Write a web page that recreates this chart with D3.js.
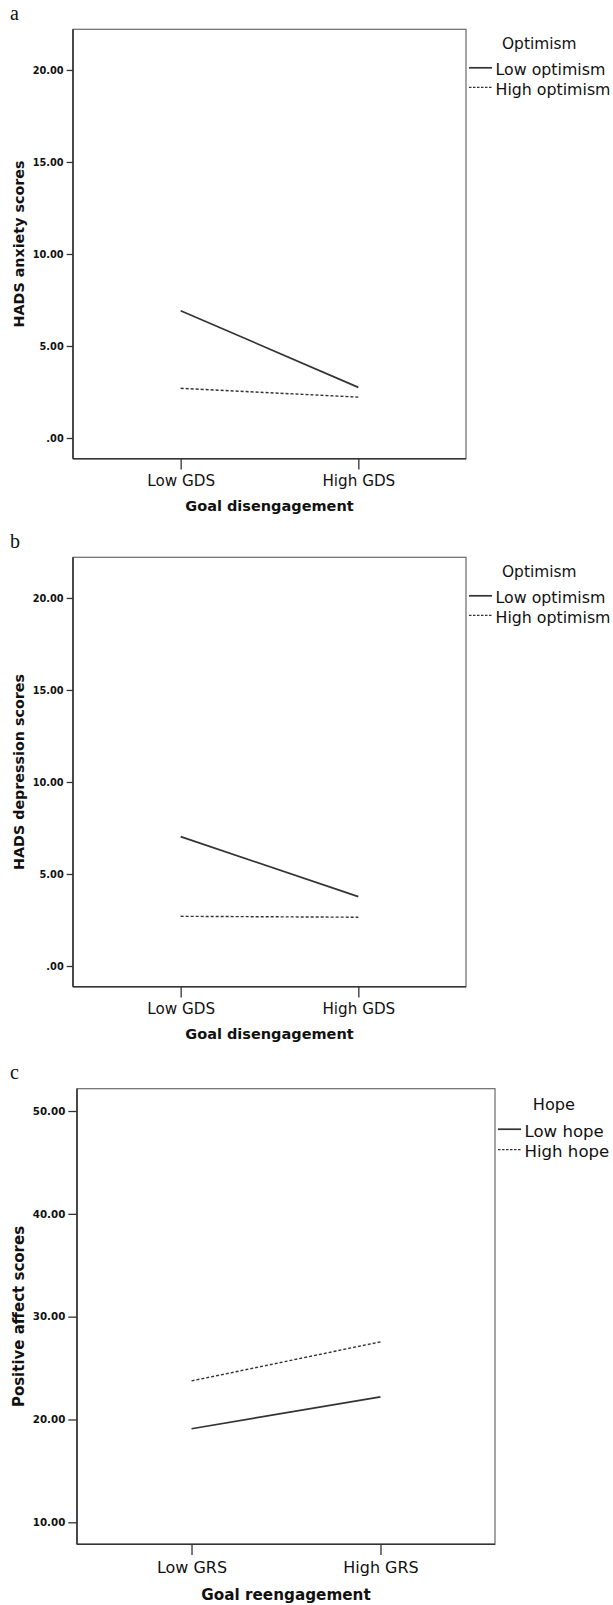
<!DOCTYPE html>
<html>
<head>
<meta charset="utf-8">
<script src="https://cdn.jsdelivr.net/npm/d3@7"></script>
<style>
  html, body { margin: 0; padding: 0; background: #fff; }
  svg { display: block; }
  text { font-family: "DejaVu Sans", sans-serif; fill: #111; }
</style>
</head>
<body>
<div id="chart"></div>
<script>
// ---- data ----
const panelLabels = ["a", "b", "c"];
const categoriesGDS = ["Low GDS", "High GDS"];
const categoriesGRS = ["Low GRS", "High GRS"];
const optimismSeries = ["Low optimism", "High optimism"];
const hopeSeries = ["Low hope", "High hope"];
const anxietyLowOpt = [6.92, 2.75];
const anxietyHighOpt = [2.70, 2.22];
const depressionLowOpt = [7.03, 3.77];
const depressionHighOpt = [2.70, 2.65];
const positiveLowHope = [19.1, 22.2];
const positiveHighHope = [23.75, 27.55];
const yTicksHADS = [0, 5, 10, 15, 20];
const yTicksPA = [10, 20, 30, 40, 50];

// ---- layout ----
const W = 613, H = 1605;
const svg = d3.select("#chart").append("svg").attr("width", W).attr("height", H);

const fmt = v => v === 0 ? ".00" : d3.format(".2f")(v);

const panels = [
  { label: panelLabels[0], labelY: 20, box: [73, 29.3, 466, 458.7], domain: [-1.125, 22.21],
    cats: categoriesGDS, ticks: yTicksHADS, yTitle: "HADS anxiety scores", xTitle: "Goal disengagement",
    legendTitle: "Optimism", names: optimismSeries, series: [anxietyLowOpt, anxietyHighOpt],
    fs: 1.0, tickLen: 6.3 },
  { label: panelLabels[1], labelY: 548.3, box: [73, 557.3, 466, 986.7], domain: [-1.125, 22.21],
    cats: categoriesGDS, ticks: yTicksHADS, yTitle: "HADS depression scores", xTitle: "Goal disengagement",
    legendTitle: "Optimism", names: optimismSeries, series: [depressionLowOpt, depressionHighOpt],
    fs: 1.0, tickLen: 6.3 },
  { label: panelLabels[2], labelY: 1079, box: [77, 1088.7, 495, 1544.3], domain: [7.86, 52.17],
    cats: categoriesGRS, ticks: yTicksPA, yTitle: "Positive affect scores", xTitle: "Goal reengagement",
    legendTitle: "Hope", names: hopeSeries, series: [positiveLowHope, positiveHighHope],
    fs: 1.05, tickLen: 8.7 }
];

const dashes = [null, "3,2"];

panels.forEach(p => {
  const [x0, y0, x1, y1] = p.box;
  const g = svg.append("g");

  const x = d3.scalePoint().domain(p.cats).range([x0, x1]).padding(0.606);
  const y = d3.scaleLinear().domain(p.domain).range([y1, y0]);

  // panel letter
  g.append("text").attr("x", 10).attr("y", p.labelY)
    .style("font-family", "'Liberation Serif', serif").style("font-size", "20px")
    .text(p.label);

  // frame
  g.append("rect").attr("x", x0).attr("y", y0).attr("width", x1 - x0).attr("height", y1 - y0)
    .attr("fill", "none").attr("stroke", "#6a6a6a").attr("stroke-width", 1.2);

  // y axis
  const yAx = g.append("g").attr("transform", `translate(${x0},0)`)
    .call(d3.axisLeft(y).tickValues(p.ticks).tickFormat(fmt).tickSize(p.tickLen).tickPadding(3));
  yAx.select(".domain").attr("stroke", "#333").attr("stroke-width", 1.6)
    .attr("d", `M0,${y0}V${y1}`);
  yAx.selectAll(".tick line").attr("stroke", "#333").attr("stroke-width", 1.3);
  yAx.selectAll(".tick text").style("font-family", "'DejaVu Sans', sans-serif")
    .style("font-weight", "bold").style("font-size", (9.8 * p.fs) + "px").attr("fill", "#111");

  // x axis
  const xAx = g.append("g").attr("transform", `translate(0,${y1})`)
    .call(d3.axisBottom(x).tickSize(10.7).tickPadding(4));
  xAx.select(".domain").attr("stroke", "#333").attr("stroke-width", 1.6)
    .attr("d", `M${x0},0H${x1}`);
  xAx.selectAll(".tick line").attr("stroke", "#333").attr("stroke-width", 1.3);
  xAx.selectAll(".tick text").style("font-family", "'DejaVu Sans', sans-serif")
    .style("font-size", (15.2 * p.fs) + "px").attr("fill", "#111")
    .attr("dy", null).attr("y", 22.2 * p.fs).attr("dominant-baseline", "central");

  // axis titles
  g.append("text").attr("x", (x0 + x1) / 2).attr("y", y1 + 47.5 * (p.fs > 1 ? 1.07 : 1))
    .attr("text-anchor", "middle").attr("dominant-baseline", "central")
    .style("font-weight", "bold").style("font-size", (14.5 * p.fs) + "px").text(p.xTitle);
  g.append("text")
    .attr("transform", `translate(18.5,${(y0 + y1) / 2}) rotate(-90)`)
    .attr("text-anchor", "middle").attr("dominant-baseline", "central")
    .style("font-weight", "bold").style("font-size", (14.3 * p.fs) + "px").text(p.yTitle);

  // series lines
  const line = d3.line().x((d, i) => x(p.cats[i])).y(d => y(d));
  p.series.forEach((s, i) => {
    g.append("path").datum(s).attr("d", line).attr("fill", "none")
      .attr("stroke", "#333").attr("stroke-width", i === 0 ? 1.7 : 1.4)
      .attr("stroke-dasharray", dashes[i]);
  });

  // legend
  const lx = x1 + 3, s = p.fs;
  g.append("text").attr("x", x1 + 36 * s).attr("y", y0 + 14.8 * s)
    .attr("dominant-baseline", "central").style("font-size", (15.4 * s) + "px").text(p.legendTitle);
  p.names.forEach((n, i) => {
    const cy = y0 + (40.5 + 19.5 * i) * s;
    g.append("line").attr("x1", lx).attr("x2", lx + 23).attr("y1", cy - 2).attr("y2", cy - 2)
      .attr("stroke", "#333").attr("stroke-width", i === 0 ? 1.7 : 1.3)
      .attr("stroke-dasharray", i === 0 ? null : "2.5,1.5");
    g.append("text").attr("x", lx + 26.5).attr("y", cy).attr("dominant-baseline", "central")
      .style("font-size", (15.8 * s) + "px").text(n);
  });
});
</script>
</body>
</html>
